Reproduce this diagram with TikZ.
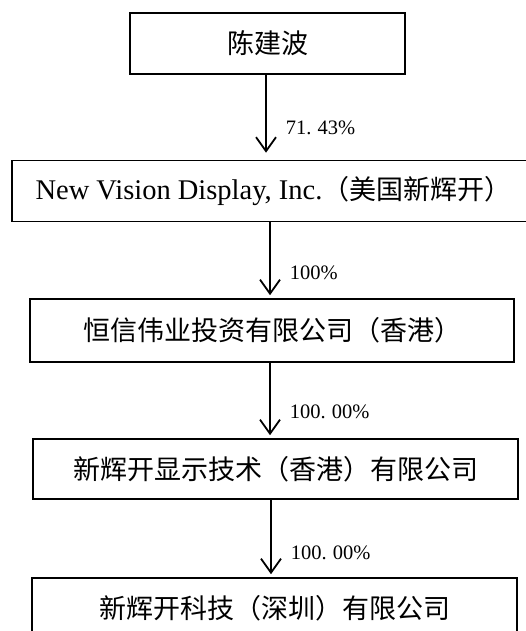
\documentclass[tikz,border=0pt]{standalone}
\usepackage{fontspec}
\setmainfont{Liberation Serif}
\newfontfamily\cjk{Noto Sans CJK SC}
\usetikzlibrary{arrows.meta}
\begin{document}
\begin{tikzpicture}[x=1pt,y=-1pt,
  box/.style={draw,line width=1.6pt,rectangle,inner sep=0pt,font=\fontsize{27}{30}\selectfont},
  arr/.style={line width=1.8pt,-{Straight Barb[length=14pt,width=20pt,line width=1.8pt]},shorten >=3pt},
  lab/.style={anchor=west,inner sep=0pt,xshift=19pt,font=\fontsize{20.5}{23}\selectfont}]
\useasboundingbox (0,0) rectangle (525,631);
\node[box,minimum width=275pt,minimum height=61pt] (b1) at (267.5,43.5) {\raisebox{-3pt}{\cjk 陈建波}};
\node[box,minimum width=523pt,minimum height=61pt] (b2) at (273.5,191) {\fontsize{28.5}{30}\selectfont New Vision Display, Inc.{\cjk\fontsize{27}{30}\selectfont （美国新辉开）}};
\node[box,minimum width=484pt,minimum height=63pt] (b3) at (272,330.5) {\cjk 恒信伟业投资有限公司（香港）};
\node[box,minimum width=485pt,minimum height=60pt] (b4) at (275.5,469) {\cjk 新辉开显示技术（香港）有限公司};
\node[box,minimum width=485pt,minimum height=60pt] (b5) at (274.5,608) {\cjk 新辉开科技（深圳）有限公司};
\draw[arr,shorten >=7pt] (b1.south -| 266,0) -- node[lab,pos=0.63]{71.\kern0.3em43\%} (b2.north -| 266,0);
\draw[arr] (b2.south -| 270,0) -- node[lab,pos=0.66]{100\%} (b3.north -| 270,0);
\draw[arr] (b3.south -| 270,0) -- node[lab,pos=0.65]{100.\kern0.3em00\%} (b4.north -| 270,0);
\draw[arr] (b4.south -| 271,0) -- node[lab,pos=0.68]{100.\kern0.3em00\%} (b5.north -| 271,0);
\end{tikzpicture}
\end{document}
